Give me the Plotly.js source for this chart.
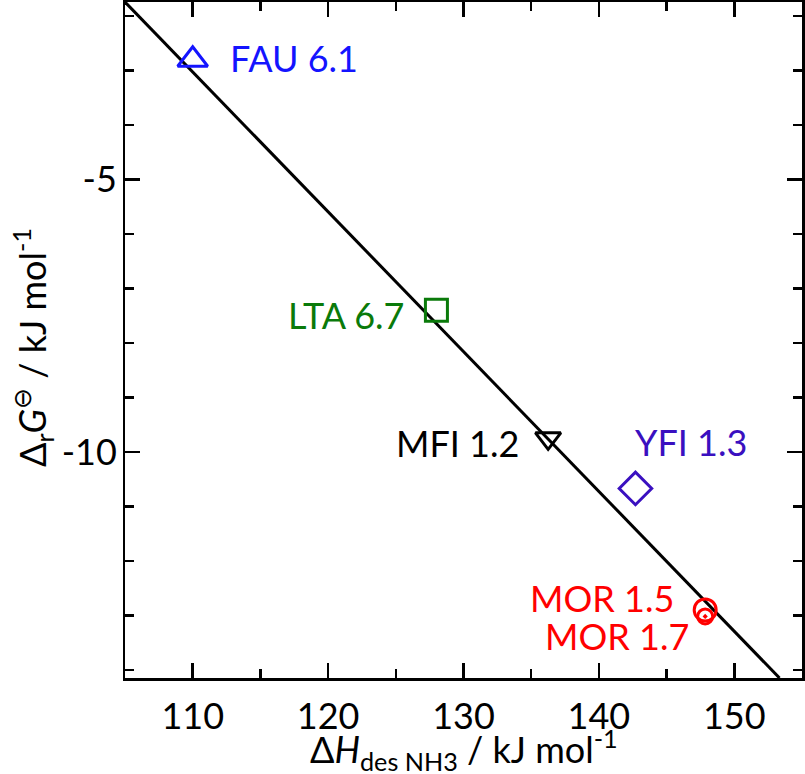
<!DOCTYPE html>
<html>
<head>
<meta charset="utf-8">
<script src="https://cdn.plot.ly/plotly-3.0.1.min.js"></script>
<style>
  html, body { margin: 0; padding: 0; background: #fff; }
  #chart { width: 805px; height: 774px; }
</style>
</head>
<body>
<div id="chart"></div>
<script>
// zeolite samples (framework + Si/Al)
const zeolites = ['FAU 6.1', 'LTA 6.7', 'MFI 1.2', 'YFI 1.3', 'MOR 1.5', 'MOR 1.7'];
const dHdes = [110.0, 128.0, 136.25, 142.7, 147.85, 147.85];   // kJ/mol
const dG = [-2.80, -7.40, -9.75, -10.67, -12.90, -13.02];       // kJ/mol

// fitted line
const fitX = [105, 153.34];
const fitY = [-1.74, -14.15];

const xTicks = [110, 120, 130, 140, 150];
const yTicks = [-5, -10];
const yTickText = ['-5', '-10'];

const xTitle = 'Δ<i>H</i><sub>des NH3</sub> / kJ mol<sup>-1</sup>';
const yTitle = 'Δ<sub>r</sub><i>G</i><sup>⊖</sup> / kJ mol<sup>-1</sup>';

// styling per sample
const colors = ['#1414ff', '#0a7a0a', '#000000', '#3a10c0', '#ff0000', '#ff0000'];
const symbols = ['triangle-up-open', 'square-open', 'triangle-down-open', 'diamond-open', 'circle-open', 'circle-open-dot'];
const sizes = [26, 22, 22, 25, 22, 15];
const labelPos = [
  {anchor: 'left', dx: 35, dy: 2},
  {anchor: 'right', dx: -30, dy: -5},
  {anchor: 'right', dx: -27, dy: -5},
  {anchor: 'left', dx: -2, dy: 46},
  {anchor: 'right', dx: -29, dy: 12},
  {anchor: 'right', dx: -14, dy: -20}
];

const font = 'Lato, "Open Sans", sans-serif';
const fs = 36;

const data = [{
  x: fitX, y: fitY,
  type: 'scatter', mode: 'lines',
  line: {color: '#000', width: 3},
  hoverinfo: 'skip'
}];

zeolites.forEach((name, i) => {
  data.push({
    x: [dHdes[i]], y: [dG[i]],
    type: 'scatter', mode: 'markers',
    name: name,
    marker: {symbol: symbols[i], size: sizes[i], color: colors[i], line: {width: 3, color: colors[i]}},
    cliponaxis: false
  });
});

// empty trace so the label-only axes (x2/y2) get drawn
data.push({x: [], y: [], type: 'scatter', mode: 'markers', xaxis: 'x2', yaxis: 'y2', hoverinfo: 'skip'});

const annotations = zeolites.map((name, i) => ({
  x: dHdes[i], y: dG[i], xref: 'x', yref: 'y',
  text: name,
  showarrow: false,
  xanchor: labelPos[i].anchor, yanchor: 'middle',
  xshift: labelPos[i].dx, yshift: labelPos[i].dy,
  font: {family: font, size: fs, color: colors[i]}
}));

// axis titles as free text so they can sit where the original has them
annotations.push({
  x: 0.5, y: 0, xref: 'paper', yref: 'paper',
  text: xTitle, showarrow: false,
  xanchor: 'center', yanchor: 'middle', yshift: -71,
  font: {family: font, size: fs, color: '#000'}
});
annotations.push({
  x: 0, y: 0.5, xref: 'paper', yref: 'paper',
  text: yTitle, showarrow: false, textangle: -90,
  xanchor: 'center', yanchor: 'middle', xshift: -93, yshift: -8,
  font: {family: font, size: fs, color: '#000'}
});

const frame = {
  ticks: 'inside', ticklen: 15, tickwidth: 2.5, tickcolor: '#000',
  showline: true, linewidth: 2.5, linecolor: '#000', mirror: 'allticks',
  showgrid: false, zeroline: false, showticklabels: false
};

const layout = {
  width: 805, height: 774,
  margin: {l: 125, r: 3, t: 2, b: 96},
  paper_bgcolor: '#fff', plot_bgcolor: '#fff',
  showlegend: false,
  font: {family: font, size: fs, color: '#000'},
  xaxis: Object.assign({}, frame, {
    range: [105, 155],
    tickmode: 'array', tickvals: xTicks,
    minor: {dtick: 5, ticks: 'inside', ticklen: 9, tickwidth: 2.5, tickcolor: '#000'}
  }),
  yaxis: Object.assign({}, frame, {
    range: [-14.15, -1.74],
    tickmode: 'array', tickvals: yTicks,
    minor: {dtick: 1, ticks: 'inside', ticklen: 9, tickwidth: 2.5, tickcolor: '#000'}
  }),
  // label-only axes sharing the same scales
  xaxis2: {
    overlaying: 'x', matches: 'x', anchor: 'y2', side: 'bottom',
    tickmode: 'array', tickvals: xTicks,
    ticks: 'outside', ticklen: 7, tickcolor: 'rgba(0,0,0,0)',
    showline: false, showgrid: false, zeroline: false,
    tickfont: {family: font, size: fs, color: '#000'}
  },
  yaxis2: {
    overlaying: 'y', matches: 'y', anchor: 'free', position: 0, side: 'left',
    tickmode: 'array', tickvals: yTicks, ticktext: yTickText,
    ticks: 'outside', ticklen: 1, tickcolor: 'rgba(0,0,0,0)',
    showline: false, showgrid: false, zeroline: false,
    tickfont: {family: font, size: fs, color: '#000'}
  },
  annotations: annotations
};

Plotly.newPlot('chart', data, layout, {displayModeBar: false, staticPlot: true});
</script>
</body>
</html>
